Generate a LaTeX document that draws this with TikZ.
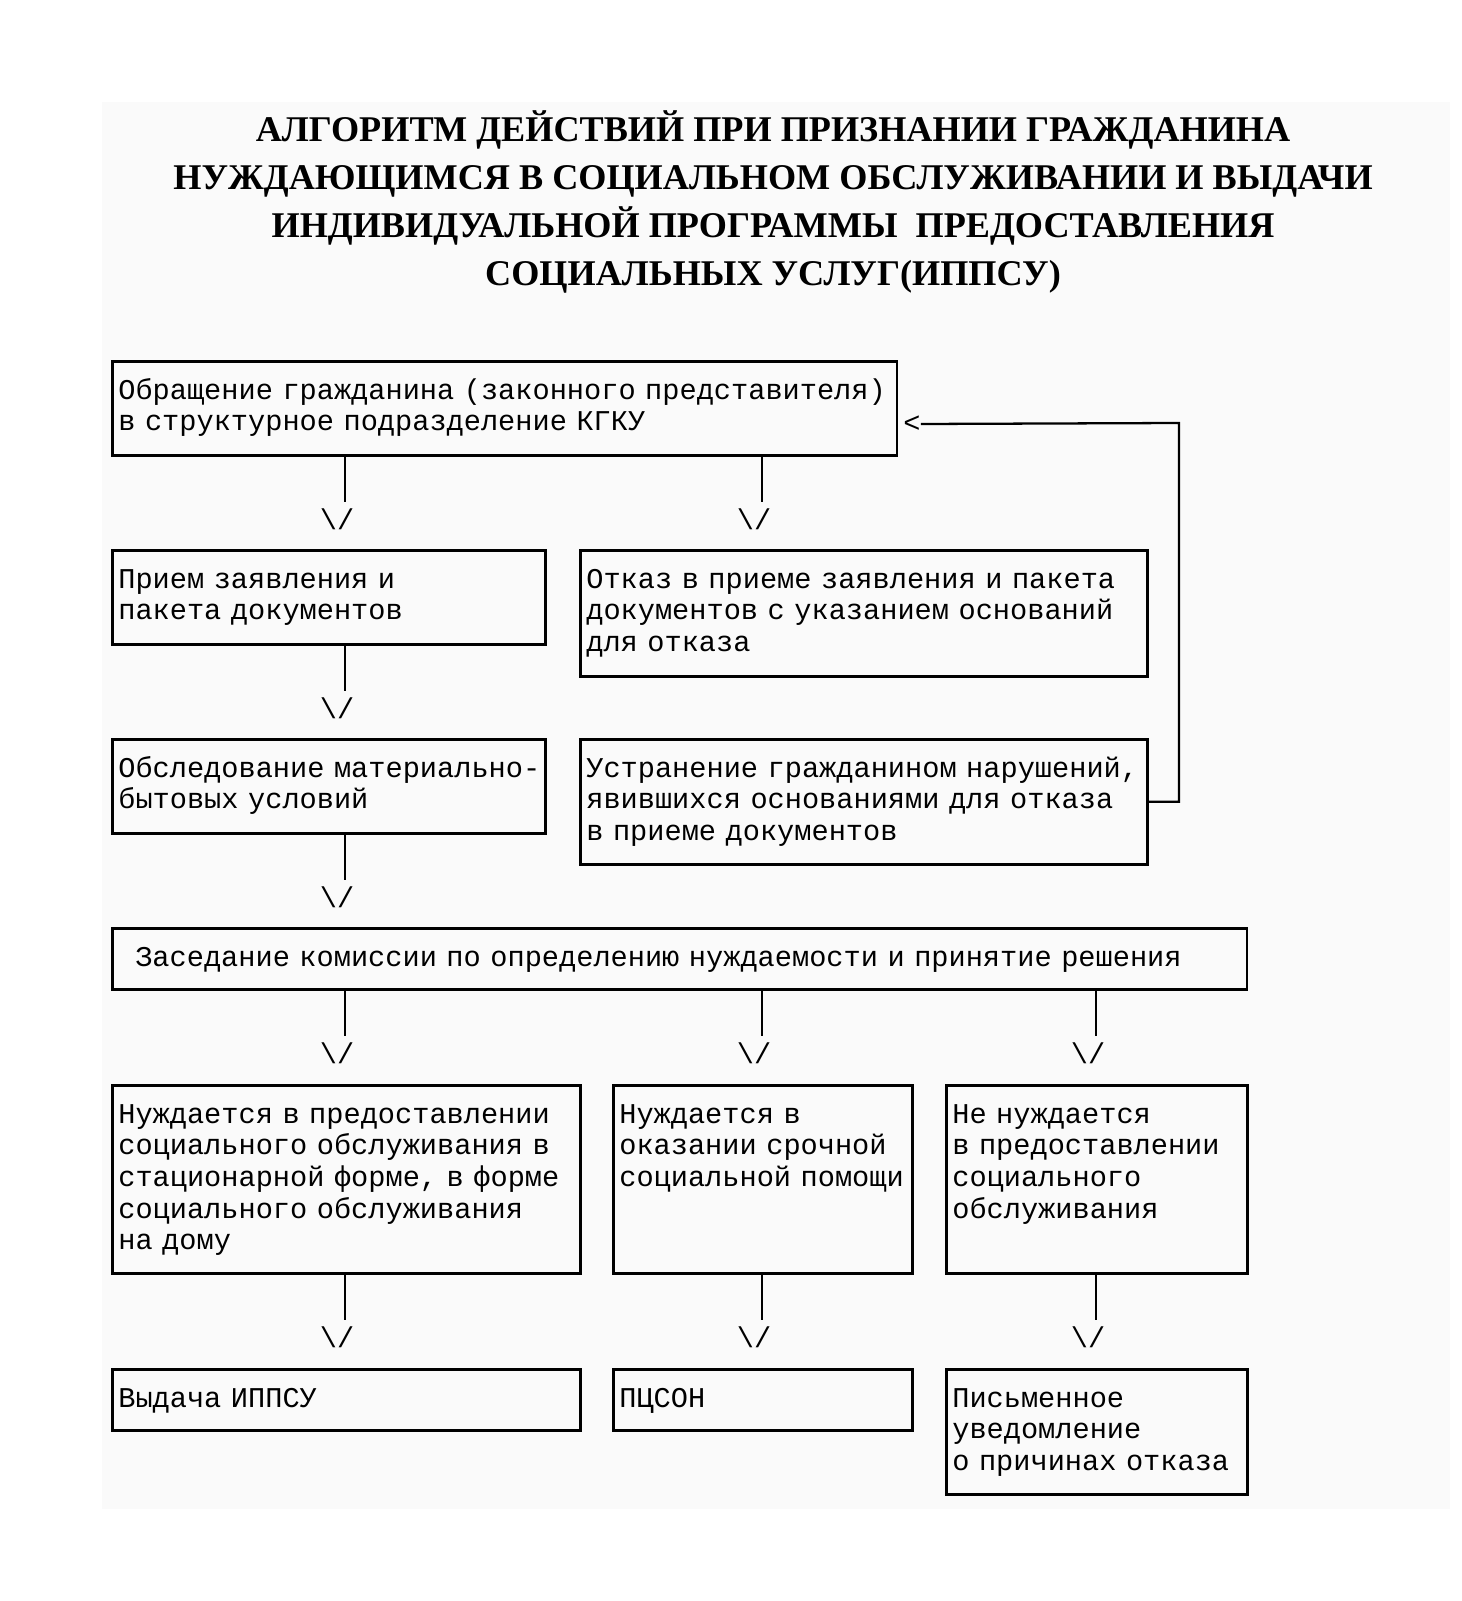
\documentclass[tikz,border=0pt]{standalone}
\usepackage{fontspec}
\setmainfont{Liberation Serif}
\setmonofont{Liberation Mono}
\usepackage{tikz}
\newcommand{\monofnt}{\ttfamily\fontsize{16.3}{18}\selectfont}

\begin{document}
\begin{tikzpicture}[x=0.02cm,y=-0.02cm]
    \tikzstyle{blok}=[draw,line width=1.5pt,anchor=north west,align=left,
      inner xsep=0.12cm,inner ysep=0pt,text height=0.76cm,font=\monofnt,
      execute at begin node={\rightskip=-0.8cm plus 1fil}]
    \tikzstyle{conn}=[line width=1.3pt]
    \tikzstyle{vee}=[inner sep=0pt,font=\monofnt]
    \useasboundingbox (0,0) rectangle (1461,1601);
    \fill[black!2] (102,102) rectangle (1450,1509);
    \node[font=\bfseries\fontsize{20.6}{27.3}\selectfont,align=center] (title) at (773,202)
      {АЛГОРИТМ ДЕЙСТВИЙ ПРИ ПРИЗНАНИИ ГРАЖДАНИНА\\
       НУЖДАЮЩИМСЯ В СОЦИАЛЬНОМ ОБСЛУЖИВАНИИ И ВЫДАЧИ\\
       ИНДИВИДУАЛЬНОЙ ПРОГРАММЫ\ \ ПРЕДОСТАВЛЕНИЯ\\
       СОЦИАЛЬНЫХ УСЛУГ(ИППСУ)};
    \node[blok,text width=15.46cm,text depth=1.12cm] (obr) at (111,360)
      {Обращение гражданина (законного представителя)\\в структурное подразделение КГКУ};
    \node[blok,text width=8.42cm,text depth=1.12cm] (priem) at (111,549)
      {Прием заявления и\\пакета документов};
    \node[blok,text width=11.10cm,text depth=1.76cm] (otkaz) at (579,549)
      {Отказ в приеме заявления и пакета\\документов с указанием оснований\\для отказа};
    \node[blok,text width=8.42cm,text depth=1.12cm] (obsl) at (111,738)
      {Обследование материально-\\бытовых условий};
    \node[blok,text width=11.10cm,text depth=1.74cm] (ustr) at (579,738)
      {Устранение гражданином нарушений,\\явившихся основаниями для отказа\\в приеме документов};
    \node[blok,text width=22.46cm,text depth=0.46cm] (zased) at (111,927)
      {\hspace*{0.34cm}Заседание комиссии по определению нуждаемости и принятие решения};
    \node[blok,text width=9.12cm,text depth=3.00cm] (stac) at (111,1084)
      {Нуждается в предоставлении\\социального обслуживания в\\стационарной форме, в форме\\социального обслуживания\\на дому};
    \node[blok,text width=5.74cm,text depth=3.00cm] (sroch) at (612,1084)
      {Нуждается в\\оказании срочной\\социальной помощи};
    \node[blok,text width=5.78cm,text depth=3.00cm] (ne) at (945,1084)
      {Не нуждается\\в предоставлении\\социального\\обслуживания};
    \node[blok,text width=9.12cm,text depth=0.46cm] (ippsu) at (111,1368)
      {Выдача ИППСУ};
    \node[blok,text width=5.74cm,text depth=0.46cm] (pcson) at (612,1368)
      {ПЦСОН};
    \node[blok,text width=5.78cm,text depth=1.74cm] (pism) at (945,1368)
      {Письменное\\уведомление\\о причинах отказа};
    \foreach \from/\x/\to in {obr/345/v1,obr/762/v2,priem/345/v3,obsl/345/v4,
        zased/345/v5,zased/762/v6,zased/1096/v7,stac/345/v8,sroch/762/v9,ne/1096/v10}
    {
      \draw[conn] (\from.south -| \x,0) -- ++(0,45) coordinate (e\to);
      \node[vee] (\to) at ([shift={(-8,18)}]e\to) {\textbackslash/};
    }
    \node[vee] (back) at (912,424) {<};
    \coordinate (turn) at (1179,423);
    \draw[conn] (ustr.east) -| (turn) -- (back.east);
\end{tikzpicture}
\end{document}
